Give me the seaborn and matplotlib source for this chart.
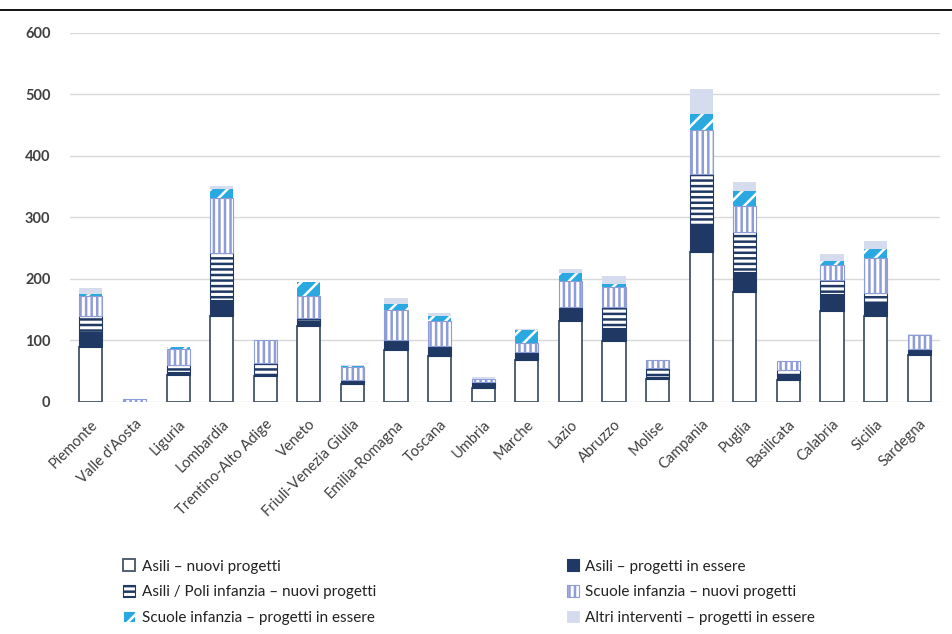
import numpy as np
import seaborn as sns
import matplotlib.pyplot as plt
from matplotlib.patches import Patch
from matplotlib.lines import Line2D

regions = ["Piemonte", "Valle d'Aosta", "Liguria", "Lombardia", "Trentino-Alto Adige",
           "Veneto", "Friuli-Venezia Giulia", "Emilia-Romagna", "Toscana", "Umbria",
           "Marche", "Lazio", "Abruzzo", "Molise", "Campania", "Puglia", "Basilicata",
           "Calabria", "Sicilia", "Sardegna"]

asili_nuovi = [90, 0, 44, 140, 42, 124, 30, 85, 74, 22, 68, 132, 99, 38, 244, 178, 36, 148, 139, 76]
asili_essere = [24, 0, 5, 26, 4, 8, 5, 15, 17, 10, 14, 23, 21, 3, 46, 33, 8, 27, 24, 10]
poli_nuovi = [26, 0, 11, 76, 18, 4, 0, 0, 0, 0, 0, 0, 35, 14, 80, 66, 8, 23, 14, 0]
scuole_nuovi = [33, 5, 26, 90, 36, 37, 22, 50, 40, 6, 14, 42, 32, 13, 72, 42, 14, 25, 57, 23]
scuole_essere = [3, 0, 3, 14, 0, 22, 1, 10, 9, 0, 21, 13, 4, 0, 27, 24, 0, 7, 14, 0]
altri_essere = [9, 0, 1, 5, 0, 0, 2, 9, 4, 2, 2, 6, 14, 0, 40, 15, 0, 10, 13, 1]

labels = ["Asili \u2013 nuovi progetti", "Asili \u2013 progetti in essere",
          "Asili / Poli infanzia \u2013 nuovi progetti", "Scuole infanzia \u2013 nuovi progetti",
          "Scuole infanzia \u2013 progetti in essere", "Altri interventi \u2013 progetti in essere"]

sns.set_style("white")
plt.rcParams['font.family'] = ['Lato', 'DejaVu Sans']
plt.rcParams['hatch.linewidth'] = 1.8

# (face, edge/hatch colour, hatch, linewidth)
styles = [
    ("white", "#44546a", None, 1.3),
    ("#1f3864", "#1f3864", None, 0.8),
    ("white", "#1f3864", "---", 0.8),
    ("white", "#8e9cd8", "|||", 0.8),
    ("#2aa9e0", "white", "//", 0.0),
    ("#d5dcee", "#d5dcee", None, 0.0),
]
series = [asili_nuovi, asili_essere, poli_nuovi, scuole_nuovi, scuole_essere, altri_essere]

fig = plt.figure(figsize=(9.52, 6.34), dpi=100)
ax = fig.add_axes([0.0735, 0.366, 0.9135, 0.582])

bottom = np.zeros(len(regions))
for vals, (face, edge, hatch, lw) in zip(series, styles):
    vals = np.array(vals, dtype=float)
    sns.barplot(x=regions, y=vals, bottom=bottom, color=face, saturation=1,
                edgecolor=edge, hatch=hatch, linewidth=lw, width=0.53,
                errorbar=None, ax=ax, zorder=3)
    bottom += vals

ax.set_ylim(0, 600)
ax.set_xlim(-0.48, len(regions) - 0.53)
ax.set_yticks(range(0, 601, 100))
ax.yaxis.grid(True, color="#d9d9d9", lw=1, zorder=0)
ax.set_axisbelow(True)
sns.despine(ax=ax, left=True, bottom=True)
ax.tick_params(axis="both", length=0, colors="#404040")
ax.tick_params(axis="y", labelsize=10.5, pad=14)
for t in ax.get_yticklabels():
    t.set_fontweight("bold")
ax.set_xticks(range(len(regions)))
ax.set_xticklabels(regions, rotation=45, ha="right", rotation_mode="anchor", fontsize=10.5)
ax.tick_params(axis="x", pad=11)
ax.set_xlabel("")
ax.set_ylabel("")

handles = [Patch(facecolor=f, edgecolor=e, hatch=h, linewidth=max(lw, 0.6))
           for f, e, h, lw in styles]
order = [0, 2, 4, 1, 3, 5]
fig.legend([handles[i] for i in order], [labels[i] for i in order], ncol=2,
           loc="center left", bbox_to_anchor=(0.115, 0.066), frameon=False,
           fontsize=11, handlelength=0.8, handleheight=0.8, handletextpad=0.4,
           labelspacing=0.75, columnspacing=12.5, labelcolor="#222222")

fig.add_artist(Line2D([0, 1], [0.984, 0.984], color="black", lw=1.3, transform=fig.transFigure))

fig.savefig("out.png", dpi=100)
